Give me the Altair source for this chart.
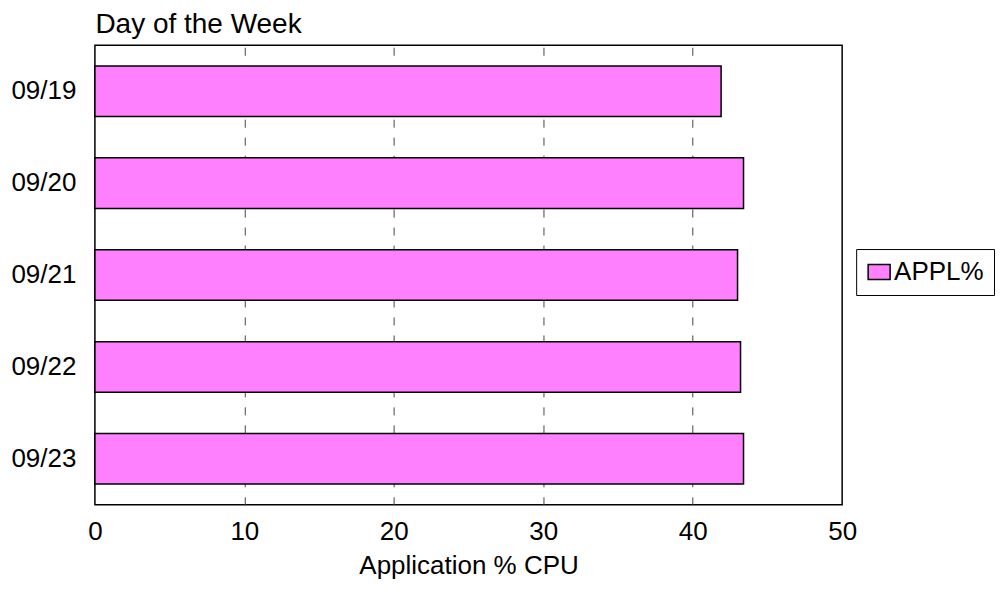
import altair as alt
import pandas as pd

days = ["09/19", "09/20", "09/21", "09/22", "09/23"]
cpu = [41.9, 43.4, 43.0, 43.2, 43.4]
series = ["APPL%"] * len(days)
x_ticks = [0, 10, 20, 30, 40, 50]

df = pd.DataFrame({"day": days, "cpu": cpu, "series": series})

FONT = "Liberation Sans"

chart = alt.Chart(df).mark_bar(stroke="black", strokeWidth=1.5, opacity=1).encode(
    y=alt.Y(
        "day:N",
        sort=days,
        scale=alt.Scale(paddingInner=0.45, paddingOuter=0.225),
        axis=alt.Axis(
            title="Day of the Week",
            titleAngle=0,
            titleX=0,
            titleY=-13,
            titleAlign="left",
            titleBaseline="alphabetic",
            titleFontSize=28,
            titleFontWeight="normal",
            titleColor="black",
            titleFont=FONT,
            ticks=False,
            domain=False,
            grid=False,
            labelFontSize=26,
            labelFont=FONT,
            labelColor="black",
            labelPadding=19,
        ),
    ),
    x=alt.X(
        "cpu:Q",
        scale=alt.Scale(domain=[0, 50], nice=False),
        axis=alt.Axis(
            values=x_ticks,
            title="Application % CPU",
            titleFontSize=26,
            titleFontWeight="normal",
            titleColor="black",
            titleFont=FONT,
            titleY=69,
            titleBaseline="alphabetic",
            grid=True,
            gridDash=[8, 10],
            gridColor="#444444",
            gridWidth=1,
            gridOpacity={"condition": {"test": "datum.value == 0 || datum.value == 50", "value": 0}, "value": 1},
            ticks=False,
            domain=False,
            labelFlush=False,
            labelFontSize=26,
            labelFont=FONT,
            labelColor="black",
            labelPadding=14,
        ),
    ),
    color=alt.Color(
        "series:N",
        scale=alt.Scale(range=["#FF80FF"]),
        legend=alt.Legend(
            title=None,
            orient="none",
            legendX=762,
            legendY=204,
            symbolType="M-1,-0.68L1,-0.68L1,0.68L-1,0.68Z",
            symbolSize=484,
            symbolStrokeColor="black",
            symbolStrokeWidth=1.5,
            symbolOpacity=1,
            labelFontSize=26,
            labelFont=FONT,
            labelColor="black",
            labelOffset=2,
            padding=10,
            strokeColor="black",
            fillColor="white",
        ),
    ),
).properties(
    width=748,
    height=460,
    autosize=alt.AutoSizeParams(type="none"),
    padding={"left": 87, "top": 37, "right": 155, "bottom": 75},
).configure(
    background="white"
).configure_view(
    stroke="black", strokeWidth=1.5
)

chart.save("out.html", embed_options={"renderer": "svg", "actions": False})
